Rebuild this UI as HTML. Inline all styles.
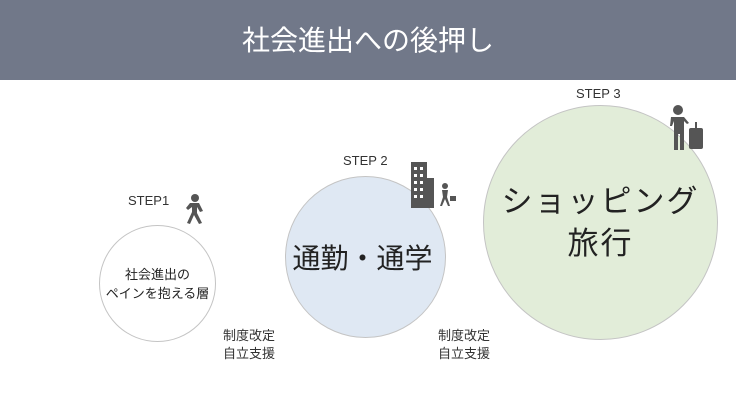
<!DOCTYPE html>
<html><head><meta charset="utf-8"><style>
body{margin:0;width:736px;height:413px;overflow:hidden;background:#fff;font-family:"Liberation Sans","Noto Sans CJK JP",sans-serif;position:relative}
.hdr{position:absolute;left:0;top:0;width:736px;height:80px;background:#717889;color:#fff;font-size:28px;text-align:center;line-height:82px}
.c{position:absolute;border-radius:50%;box-sizing:border-box;border:1.5px solid #c4c4c4;display:flex;align-items:center;justify-content:center;text-align:center;color:#222}
.t{position:absolute;font-size:13px;color:#333;line-height:18px}
</style></head><body>
<div class="hdr">社会進出への後押し</div>
<div class="c" style="left:99px;top:225px;width:117px;height:117px;font-size:13px;line-height:19px">社会進出の<br>ペインを抱える層</div>
<div class="c" style="left:285px;top:176px;width:161px;height:162px;background:#dfe8f3;font-size:28px;white-space:nowrap;letter-spacing:0px"><span style="margin-left:-6px">通勤・通学</span></div>
<div class="c" style="left:483px;top:105px;width:235px;height:235px;background:#e2edd9;font-size:31px;line-height:42px;letter-spacing:2px;white-space:nowrap">ショッピング<br>旅行</div>
<div class="t" style="left:128px;top:192px">STEP1</div>
<div class="t" style="left:343px;top:152px">STEP 2</div>
<div class="t" style="left:576px;top:85px">STEP 3</div>
<div class="t" style="left:223px;top:327px">制度改定<br>自立支援</div>
<div class="t" style="left:438px;top:327px">制度改定<br>自立支援</div>
<svg style="position:absolute;left:0;top:0" width="736" height="413" fill="#555">
<circle cx="195" cy="198" r="4"/><path d="M190 203h9l4 8-3 1-3-5v6l5 10-3 1-5-9-4 9-3-1 5-11v-5l-4 3-2-2z"/>
<rect x="411" y="162" width="16" height="46"/><rect x="427" y="178" width="7" height="30"/>
<g fill="#fff"><rect x="414" y="167" width="3" height="3"/><rect x="420" y="167" width="3" height="3"/><rect x="414" y="174" width="3" height="3"/><rect x="420" y="174" width="3" height="3"/><rect x="414" y="181" width="3" height="3"/><rect x="420" y="181" width="3" height="3"/><rect x="414" y="188" width="3" height="3"/><rect x="420" y="188" width="3" height="3"/><rect x="414" y="195" width="3" height="3"/><rect x="420" y="195" width="3" height="3"/></g>
<circle cx="445" cy="186" r="3"/><path d="M442 190h6l-1 7 3 9h-2l-3-7-3 7h-2l3-9z"/><rect x="450" y="196" width="6" height="5"/>
<circle cx="678" cy="110" r="5"/><path d="M671 117h13l5 6-2 1-3-3v29h-4v-16h-2v16h-4v-29l-2 5h-2z"/><rect x="689" y="128" width="14" height="21" rx="2"/><rect x="695" y="122" width="2" height="6"/>
</svg>
</body></html>
